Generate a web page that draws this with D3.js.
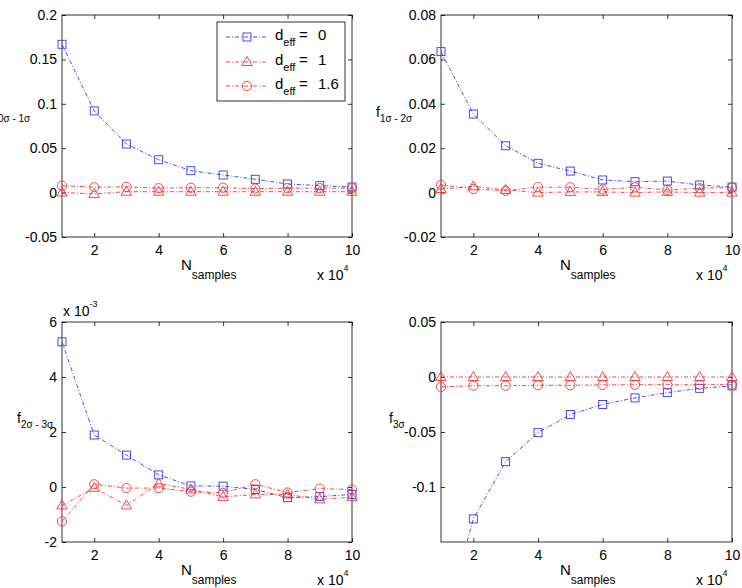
<!DOCTYPE html>
<html>
<head>
<meta charset="utf-8">
<script src="https://cdn.jsdelivr.net/npm/d3@7"></script>
<style>
body { margin: 0; background: #fff; }
svg { display: block; }
text { font-family: "Liberation Sans", Arial, sans-serif; fill: #000; }
</style>
</head>
<body>
<div id="chart"></div>
<script>
// x values (units of 10^4 samples)
var nSamples = [1, 2, 3, 4, 5, 6, 7, 8, 9, 10];
var xTicks = [2, 4, 6, 8, 10];

// f 0σ-1σ
var f01_d0  = [0.167, 0.092, 0.0547, 0.037, 0.0247, 0.0198, 0.015, 0.0097, 0.0078, 0.0063];
var f01_d1  = [0.0002, -0.0015, 0.001, 0.001, 0.001, 0.001, 0.001, 0.001, 0.001, 0.001];
var f01_d16 = [0.0078, 0.006, 0.0065, 0.005, 0.0055, 0.0055, 0.0045, 0.005, 0.005, 0.005];
var yTicks01 = [-0.05, 0, 0.05, 0.1, 0.15, 0.2];

// f 1σ-2σ
var f12_d0  = [0.0635, 0.0354, 0.0211, 0.0132, 0.0097, 0.0057, 0.0049, 0.0052, 0.0034, 0.0025];
var f12_d1  = [0.0016, 0.0028, 0.0012, 0, 0.0003, 0.0003, 0, 0.0003, 0, 0];
var f12_d16 = [0.0035, 0.0016, 0.0008, 0.0025, 0.0024, 0.0014, 0.0024, 0.0012, 0.002, 0.0022];
var yTicks12 = [-0.02, 0, 0.02, 0.04, 0.06, 0.08];

// f 2σ-3σ
var f23_d0  = [5.28e-3, 1.89e-3, 1.16e-3, 0.44e-3, 0.04e-3, 0.03e-3, -0.09e-3, -0.39e-3, -0.35e-3, -0.27e-3];
var f23_d1  = [-0.67e-3, -0.03e-3, -0.67e-3, 0.13e-3, -0.09e-3, -0.36e-3, -0.27e-3, -0.27e-3, -0.45e-3, -0.37e-3];
var f23_d16 = [-1.25e-3, 0.1e-3, -0.04e-3, -0.04e-3, -0.17e-3, -0.21e-3, 0.1e-3, -0.2e-3, -0.06e-3, -0.09e-3];
var yTicks23 = [-2e-3, 0, 2e-3, 4e-3, 6e-3];

// f 3σ
var f3_d0  = [-0.236, -0.129, -0.077, -0.0506, -0.0341, -0.025, -0.019, -0.0142, -0.0103, -0.0081];
var f3_d1  = [0, 0, 0, 0, 0, 0, 0, 0, 0, 0];
var f3_d16 = [-0.009, -0.0079, -0.0079, -0.0075, -0.0075, -0.0072, -0.007, -0.007, -0.007, -0.007];
var yTicks3 = [-0.1, -0.05, 0, 0.05];

var legendLabels = ["0", "1", "1.6"];

var blue = "#3535ee", red = "#f03535";
var dash = "4,2,1,2";

var width = 742, height = 588;

var svg = d3.select("#chart").append("svg")
    .attr("width", width)
    .attr("height", height);

var defs = svg.append("defs");

var panels = [
    {L: 62, T: 15, R: 352, B: 237, dom: [-0.05, 0.2], ticks: yTicks01, fmt: function(v) { return String(+v.toFixed(4)); },
     series: [f01_d0, f01_d1, f01_d16], sub: "0σ - 1σ", labX: -6},
    {L: 441, T: 15, R: 732, B: 237, dom: [-0.02, 0.08], ticks: yTicks12, fmt: function(v) { return String(+v.toFixed(4)); },
     series: [f12_d0, f12_d1, f12_d16], sub: "1σ - 2σ", labX: 376},
    {L: 62, T: 322, R: 352, B: 542, dom: [-2e-3, 6e-3], ticks: yTicks23, fmt: function(v) { return String(Math.round(v * 1000)); },
     series: [f23_d0, f23_d1, f23_d16], sub: "2σ - 3σ", labX: 17, exp: "-3"},
    {L: 441, T: 322, R: 732, B: 542, dom: [-0.15, 0.05], ticks: yTicks3, fmt: function(v) { return String(+v.toFixed(4)); },
     series: [f3_d0, f3_d1, f3_d16], sub: "3σ", labX: 389}
];

var styles = [
    {color: blue, marker: "square"},
    {color: red, marker: "triangle"},
    {color: red, marker: "circle"}
];

function drawMarker(g, type, color) {
    if (type === "square") {
        g.append("rect").attr("x", -4).attr("y", -4).attr("width", 8).attr("height", 8);
    } else if (type === "triangle") {
        g.append("path").attr("d", "M0,-5.5L5.2,3.5L-5.2,3.5Z");
    } else {
        g.append("circle").attr("r", 4.6);
    }
    g.selectAll("*").attr("fill", "none").attr("stroke", color).attr("stroke-width", 0.9);
}

panels.forEach(function(p, i) {
    var x = d3.scaleLinear().domain([1, 10]).range([p.L, p.R]);
    var y = d3.scaleLinear().domain(p.dom).range([p.B, p.T]);
    var g = svg.append("g");

    defs.append("clipPath").attr("id", "clip" + i)
        .append("rect")
        .attr("x", p.L).attr("y", p.T)
        .attr("width", p.R - p.L).attr("height", p.B - p.T);

    // axes with inward ticks
    g.append("g").attr("transform", "translate(0," + p.B + ")")
        .call(d3.axisBottom(x).tickValues(xTicks).tickSizeInner(-4).tickSizeOuter(0).tickPadding(8));
    g.append("g").attr("transform", "translate(0," + p.T + ")")
        .call(d3.axisTop(x).tickValues(xTicks).tickSizeInner(-4).tickSizeOuter(0).tickFormat(""));
    g.append("g").attr("transform", "translate(" + p.L + ",0)")
        .call(d3.axisLeft(y).tickValues(p.ticks).tickSizeInner(-4).tickSizeOuter(0).tickPadding(5).tickFormat(p.fmt));
    g.append("g").attr("transform", "translate(" + p.R + ",0)")
        .call(d3.axisRight(y).tickValues(p.ticks).tickSizeInner(-4).tickSizeOuter(0).tickFormat(""));

    g.selectAll(".domain").remove();
    g.selectAll(".tick line").attr("stroke", "#000").attr("stroke-width", 0.8);
    g.selectAll(".tick text").attr("font-size", 14).attr("font-family", "Liberation Sans, Arial, sans-serif").attr("fill", "#000");

    g.append("rect")
        .attr("x", p.L).attr("y", p.T)
        .attr("width", p.R - p.L).attr("height", p.B - p.T)
        .attr("fill", "none").attr("stroke", "#000").attr("stroke-width", 0.8);

    // series
    p.series.forEach(function(vals, k) {
        var st = styles[k];
        var pts = nSamples.map(function(n, j) { return [n, vals[j]]; });
        var line = d3.line().x(function(d) { return x(d[0]); }).y(function(d) { return y(d[1]); });
        g.append("path")
            .attr("d", line(pts))
            .attr("clip-path", "url(#clip" + i + ")")
            .attr("fill", "none")
            .attr("stroke", st.color)
            .attr("stroke-width", 0.9)
            .attr("stroke-dasharray", dash);
        pts.filter(function(d) { return d[1] >= p.dom[0] && d[1] <= p.dom[1]; })
            .forEach(function(d) {
                var m = g.append("g").attr("transform", "translate(" + x(d[0]) + "," + y(d[1]) + ")");
                drawMarker(m, st.marker, st.color);
            });
    });

    // y label
    var mid = (p.T + p.B) / 2;
    var yl = g.append("text").attr("x", p.labX).attr("y", mid - 9).attr("font-size", 14);
    yl.append("tspan").text("f");
    yl.append("tspan").attr("dy", 5).attr("font-size", 10).text(p.sub);

    // x label
    var xl = g.append("text").attr("x", p.L + 119).attr("y", p.B + 33).attr("font-size", 15);
    xl.append("tspan").text("N");
    xl.append("tspan").attr("dy", 9).attr("font-size", 12).text("samples");

    var xe = g.append("text").attr("x", p.L + 255).attr("y", p.B + 43).attr("font-size", 14);
    xe.append("tspan").text("x 10");
    xe.append("tspan").attr("dy", -9).attr("font-size", 9).text("4");

    if (p.exp) {
        var ye = g.append("text").attr("x", p.L + 1).attr("y", p.T - 6).attr("font-size", 14);
        ye.append("tspan").text("x 10");
        ye.append("tspan").attr("dy", -9).attr("font-size", 9).text(p.exp);
    }
});

// legend in first panel
var lg = svg.append("g");
lg.append("rect")
    .attr("x", 217).attr("y", 22).attr("width", 128).attr("height", 79)
    .attr("fill", "#fff").attr("stroke", "#000").attr("stroke-width", 0.8);
var rowY = [37, 62, 86];
legendLabels.forEach(function(lab, k) {
    var st = styles[k];
    lg.append("line")
        .attr("x1", 226).attr("x2", 268)
        .attr("y1", rowY[k]).attr("y2", rowY[k])
        .attr("stroke", st.color).attr("stroke-width", 0.9)
        .attr("stroke-dasharray", dash);
    var m = lg.append("g").attr("transform", "translate(247," + rowY[k] + ")");
    drawMarker(m, st.marker, st.color);
    var t = lg.append("text").attr("x", 275).attr("y", rowY[k] + 3).attr("font-size", 15);
    t.append("tspan").text("d");
    t.append("tspan").attr("dy", 6).attr("font-size", 11).text("eff");
    lg.append("text").attr("x", 299).attr("y", rowY[k] + 3).attr("font-size", 15).text("=");
    lg.append("text").attr("x", 318).attr("y", rowY[k] + 3).attr("font-size", 15).text(lab);
});
</script>
</body>
</html>
